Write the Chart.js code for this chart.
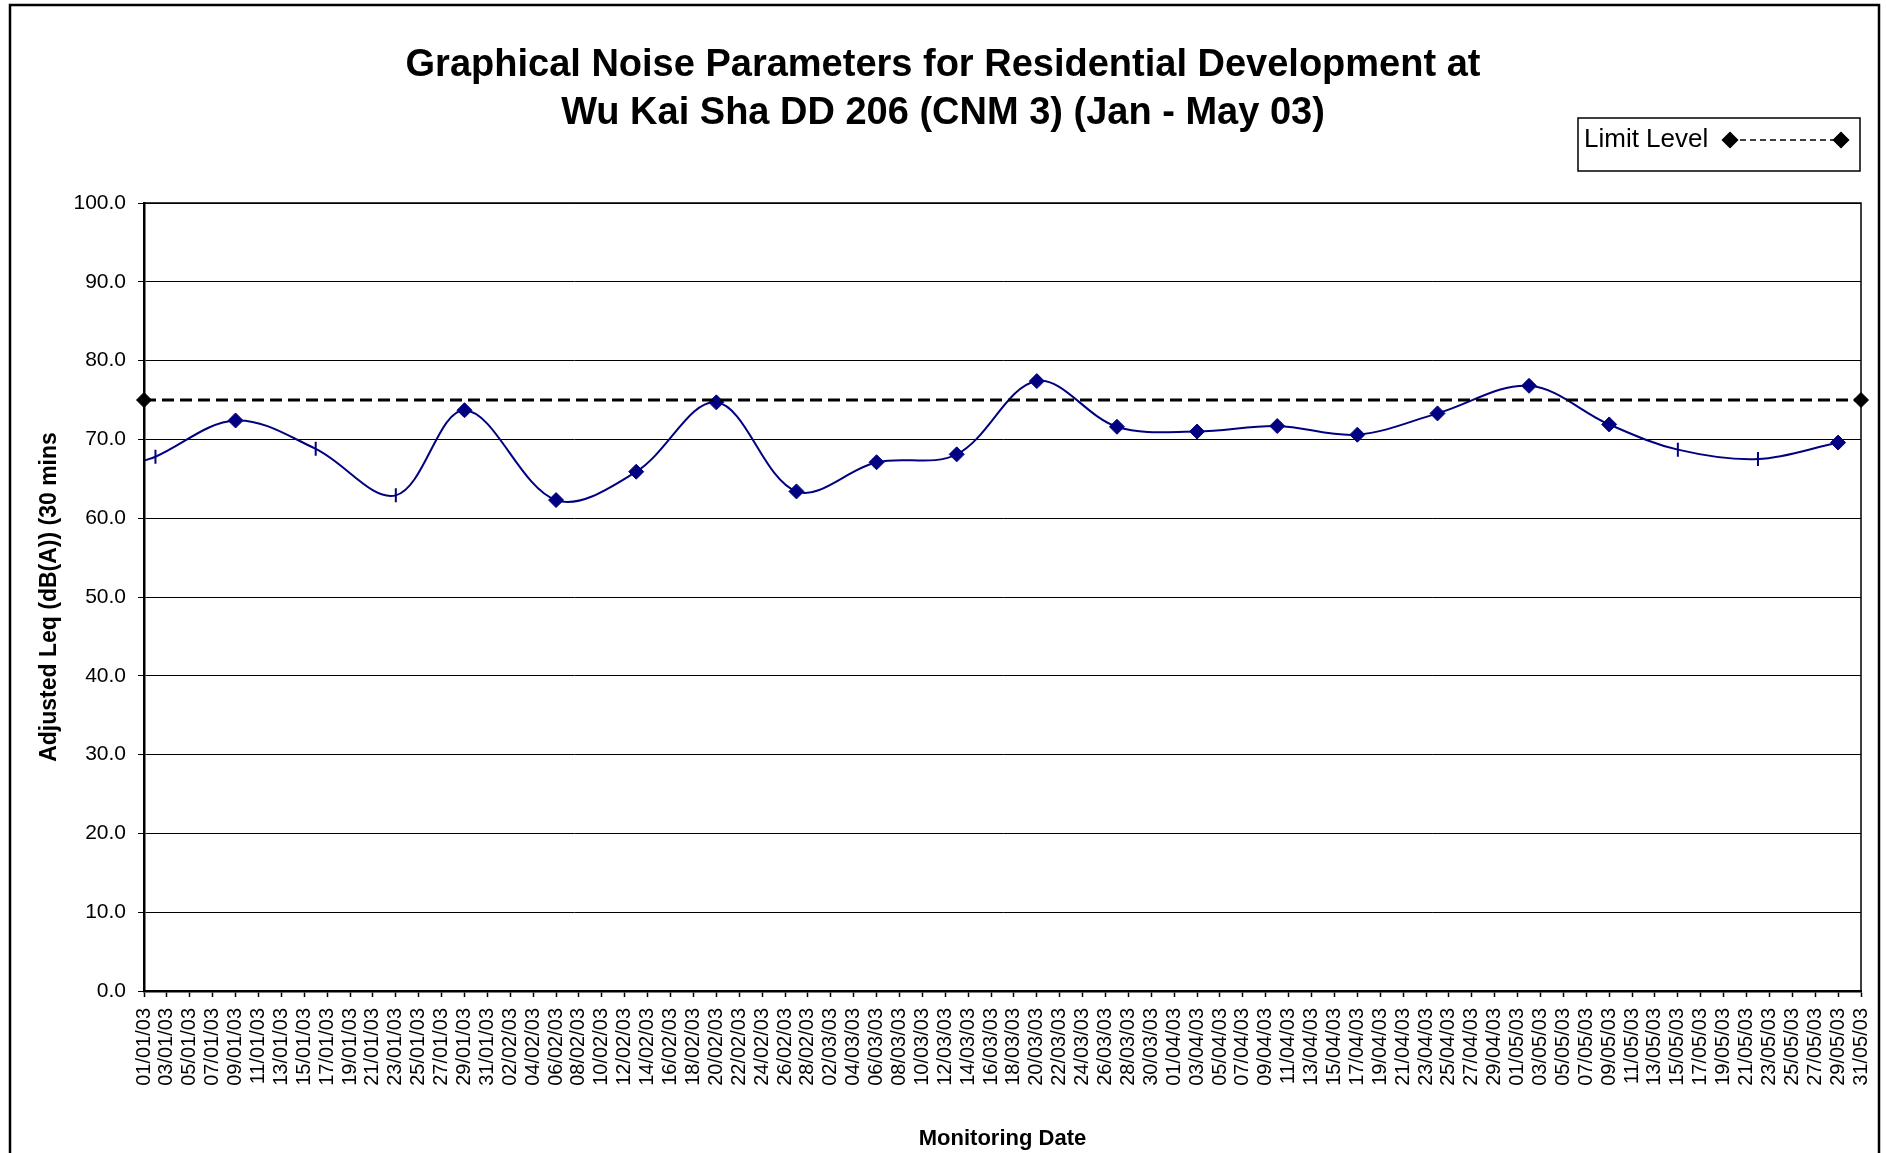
<!DOCTYPE html>
<html lang="en">
<head>
<meta charset="UTF-8">
<title>Graphical Noise Parameters - Wu Kai Sha DD 206 (CNM 3)</title>
<script src="https://cdn.jsdelivr.net/npm/chart.js@4/dist/chart.umd.min.js"></script>
<style>
  html, body { margin: 0; padding: 0; background: #fff; }
  #wrap { position: relative; width: 1886px; height: 1153px; }
</style>
</head>
<body>
<div id="wrap"><canvas id="chart"></canvas></div>
<script>
// ---------------------------------------------------------------------------
// Data
// ---------------------------------------------------------------------------

const TITLE_LINES = [
  'Graphical Noise Parameters for Residential Development at',
  'Wu Kai Sha DD 206 (CNM 3) (Jan - May 03)'
];
const Y_TITLE = 'Adjusted Leq (dB(A)) (30 mins';
const X_TITLE = 'Monitoring Date';

// measured days, adjusted Leq dB(A), marker used in the original
const noiseDates = [
  '01/01/03', '02/01/03', '09/01/03', '16/01/03', '23/01/03', '29/01/03',
  '06/02/03', '13/02/03', '20/02/03', '27/02/03', '06/03/03', '13/03/03',
  '20/03/03', '27/03/03', '03/04/03', '10/04/03', '17/04/03', '24/04/03',
  '02/05/03', '09/05/03', '15/05/03', '22/05/03', '29/05/03'
];
const noiseValues = [
  67.3, 67.8, 72.4, 68.8, 62.9, 73.7,
  62.3, 65.9, 74.7, 63.4, 67.1, 68.1,
  77.4, 71.6, 71.0, 71.7, 70.6, 73.3,
  76.8, 71.9, 68.7, 67.5, 69.6
];
const noiseMarks = [
  'none', 'tick', 'diamond', 'tick', 'tick', 'diamond',
  'diamond', 'diamond', 'diamond', 'diamond', 'diamond', 'diamond',
  'diamond', 'diamond', 'diamond', 'diamond', 'diamond', 'diamond',
  'diamond', 'diamond', 'tick', 'tick', 'diamond'
];

const limitLabel  = 'Limit Level';
const limitDates  = ['01/01/03', '31/05/03'];
const limitValues = [75, 75];

const Y_MIN = 0, Y_MAX = 100, Y_STEP = 10;

// daily category axis Jan - May 2003, every second day labelled
const MONTH_DAYS = [31, 28, 31, 30, 31];
const pad2 = (n) => String(n).padStart(2, '0');
const dayLabels = [];
MONTH_DAYS.forEach((days, m) => {
  for (let d = 1; d <= days; d++) dayLabels.push(`${pad2(d)}/${pad2(m + 1)}/03`);
});

// ---------------------------------------------------------------------------
// Styling
// ---------------------------------------------------------------------------

const FONT = "'Liberation Sans', Arial, Helvetica, sans-serif";
const NAVY = '#000080';

const noiseData = noiseDates.map((d, i) => ({ x: d, y: noiseValues[i] }));
const limitData = limitDates.map((d, i) => ({ x: d, y: limitValues[i] }));

const markStyle  = noiseMarks.map(m => m === 'tick' ? 'line' : 'rectRot');
const markRadius = noiseMarks.map(m => m === 'none' ? 0 : (m === 'tick' ? 7 : 7.5));
const markRot    = noiseMarks.map(m => m === 'tick' ? 90 : 0);
const markBorder = noiseMarks.map(m => m === 'tick' ? 2 : 1);

// outer frame + plot frame
const framePlugin = {
  id: 'frames',
  afterDraw(chart) {
    const { ctx, chartArea: a } = chart;
    ctx.save();
    ctx.strokeStyle = '#000';
    ctx.lineWidth = 1.5;
    ctx.strokeRect(a.left, a.top, a.right - a.left, a.bottom - a.top);
    ctx.lineWidth = 2.5;
    ctx.strokeRect(10, 5, 1869, 1160);
    ctx.restore();
  }
};

// boxed legend, text on the left, sample line with diamonds on the right
const legendBoxPlugin = {
  id: 'legendBox',
  afterDraw(chart) {
    const { ctx } = chart;
    const ds = chart.data.datasets[1];
    const bx = 1578, by = 118, bw = 282, bh = 53;
    const cy = by + 22;
    ctx.save();
    ctx.fillStyle = '#fff';
    ctx.fillRect(bx, by, bw, bh);
    ctx.strokeStyle = '#000';
    ctx.lineWidth = 1.5;
    ctx.strokeRect(bx, by, bw, bh);
    ctx.fillStyle = '#000';
    ctx.font = `26px ${FONT}`;
    ctx.textBaseline = 'middle';
    ctx.textAlign = 'left';
    ctx.fillText(ds.label, bx + 6, cy);
    const x0 = 1730, x1 = 1841;
    ctx.setLineDash([6, 4]);
    ctx.lineWidth = 1.5;
    ctx.beginPath();
    ctx.moveTo(x0, cy);
    ctx.lineTo(x1, cy);
    ctx.stroke();
    ctx.setLineDash([]);
    for (const x of [x0, x1]) {
      Chart.helpers.drawPoint(ctx, { pointStyle: 'rectRot', radius: 7.5, borderWidth: 1 }, x, cy);
      ctx.fill();
    }
    ctx.restore();
  }
};

new Chart(document.getElementById('chart'), {
  type: 'line',
  plugins: [framePlugin, legendBoxPlugin],
  data: {
    labels: dayLabels,
    datasets: [
      {
        label: 'Adjusted Leq',
        data: noiseData,
        borderColor: NAVY,
        borderWidth: 2,
        tension: 0.35,
        pointStyle: markStyle,
        pointRadius: markRadius,
        pointRotation: markRot,
        pointBorderWidth: markBorder,
        pointBackgroundColor: NAVY,
        pointBorderColor: NAVY,
        order: 2
      },
      {
        label: limitLabel,
        data: limitData,
        borderColor: '#000',
        borderWidth: 3,
        borderDash: [12, 6],
        tension: 0,
        pointStyle: 'rectRot',
        pointRadius: 7.5,
        pointBorderWidth: 1,
        pointBackgroundColor: '#000',
        pointBorderColor: '#000',
        order: 1
      }
    ]
  },
  options: {
    responsive: true,
    maintainAspectRatio: false,
    animation: false,
    events: [],
    layout: { padding: { left: 0, right: 0, top: 0, bottom: 0 } },
    plugins: {
      legend: { display: false },
      tooltip: { enabled: false },
      title: {
        display: true,
        text: TITLE_LINES,
        color: '#000',
        font: { family: FONT, size: 38, weight: 'bold', lineHeight: 48 / 38 },
        padding: { top: 42, bottom: 65 }
      }
    },
    scales: {
      x: {
        type: 'category',
        offset: false,
        afterFit: (s) => { s.height = 162; s.paddingLeft = 0; s.paddingRight = 25; },
        grid: {
          drawOnChartArea: false,
          tickLength: 6,
          tickWidth: 1.5,
          tickColor: (c) => (c.index % 2 === 0 ? '#000' : 'rgba(0,0,0,0)')
        },
        border: { color: '#000', width: 2.5 },
        ticks: {
          autoSkip: false,
          maxRotation: 90,
          minRotation: 90,
          padding: 11,
          color: '#000',
          font: { family: FONT, size: 20 },
          callback: function (v, i) { return i % 2 === 0 ? this.getLabelForValue(v) : ''; }
        },
        title: {
          display: true,
          text: X_TITLE,
          color: '#000',
          font: { family: FONT, size: 22, weight: 'bold' },
          padding: { top: 4, bottom: 1 }
        }
      },
      y: {
        min: Y_MIN,
        max: Y_MAX,
        afterFit: (s) => { s.width = 144; },
        grid: { color: '#000', lineWidth: 1, tickLength: 6, tickColor: '#000' },
        border: { color: '#000', width: 2.5 },
        ticks: {
          stepSize: Y_STEP,
          padding: 12,
          color: '#000',
          font: { family: FONT, size: 21 },
          callback: (v) => v.toFixed(1)
        },
        title: {
          display: true,
          text: Y_TITLE,
          color: '#000',
          font: { family: FONT, size: 23, weight: 'bold' },
          padding: { top: 36, bottom: 0 }
        }
      }
    }
  }
});
</script>
</body>
</html>
